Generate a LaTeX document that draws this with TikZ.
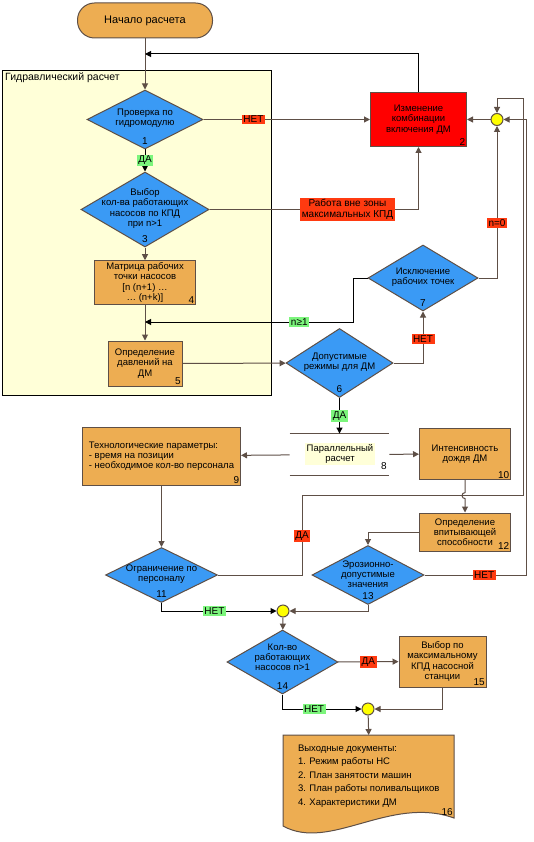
\documentclass[tikz,border=0pt]{standalone}
\usepackage{fontspec}
\setmainfont{Liberation Sans}
\usetikzlibrary{arrows.meta,positioning,shapes.geometric,calc}
\definecolor{boxfill}{HTML}{EDAD52}
\definecolor{decfill}{HTML}{3A9AF5}
\definecolor{alarm}{HTML}{FF0000}
\definecolor{tagred}{HTML}{FF3A10}
\definecolor{taggreen}{HTML}{7CF57C}
\definecolor{knotfill}{HTML}{FFFF00}
\definecolor{zonefill}{HTML}{FFFFD8}
\definecolor{wire}{HTML}{5E4F46}
\newcommand{\fs}{\fontsize{9.5}{10.2}\selectfont}

\begin{document}
\begin{tikzpicture}[x=1pt,y=-1pt,
  link/.style={draw=wire,line width=1pt,-{Triangle[length=6pt,width=6pt]}},
  blink/.style={draw=black,line width=1pt,-{Triangle[length=6pt,width=6pt]}},
  box/.style={draw=wire,fill=boxfill,line width=1pt,align=center,font=\fs,inner sep=2pt},
  dec/.style={diamond,draw=wire,fill=decfill,line width=1pt,inner sep=0pt},
  dtext/.style={align=center,font=\fs,inner sep=0pt},
  num/.style={font=\fontsize{10}{12}\selectfont,inner sep=1.5pt},
  tagr/.style={fill=tagred,font=\fontsize{10}{10.5}\selectfont,inner sep=1.5pt,align=center},
  tagg/.style={fill=taggreen,font=\fontsize{10}{10.5}\selectfont,inner sep=1.5pt},
  knot/.style={circle,draw=wire,fill=knotfill,line width=1pt,minimum size=12pt,inner sep=0pt}]
\useasboundingbox (0,0) rectangle (534,842);
% hydraulic block and document outline
\draw[fill=zonefill,line width=0.8pt] (2,70) rectangle (271.5,395.6);
\node[anchor=west,font=\fontsize{10.5}{12}\selectfont,inner sep=0pt] (zonet) at (5,78) {Гидравлический расчет};
\draw[fill=boxfill,draw=wire,line width=1pt] (283,735) -- (454,735) -- (454,818) .. controls (390,795) and (330,852) .. (283,826) -- cycle;

\node[box,rounded corners=17pt,minimum width=135,minimum height=35,font=\fontsize{11}{13}\selectfont] (start) at (145,20.5) {Начало расчета};
\coordinate (top) at (145,54);
\coordinate (midjoin) at (145,322);

\node[dec,minimum width=116,minimum height=59,label={[num,anchor=south,yshift=3.5pt]south:1}] (d1) at (145,119.5) {};
\node[dtext] (d1t) at (145,118) {Проверка по\\гидромодулю};
\node[box,fill=alarm,minimum width=96,minimum height=54,label={[num,anchor=south east]south east:2}] (n2) at (418.5,119.5) {Изменение\\комбинации\\включения ДМ};
\node[knot] (c1) at (497,119.5) {};
\node[dec,minimum width=128,minimum height=75,label={[num,anchor=south,yshift=3.5pt]south:3}] (d3) at (145,209.5) {};
\node[dtext] (d3t) at (145,208.5) {Выбор\\кол-ва работающих\\насосов по КПД\\при n>1};
\node[box,minimum width=101,minimum height=43,label={[num,anchor=south east]south east:4}] (n4) at (145,282.5) {Матрица рабочих\\точки насосов\\{[}n (n+1) …\\… (n+k)]};
\node[box,minimum width=74,minimum height=45,label={[num,anchor=south east]south east:5}] (n5) at (145,363.5) {Определение\\давлений на\\ДМ};
\node[dec,minimum width=110,minimum height=66,label={[num,anchor=south,yshift=3.5pt]south:7}] (d7) at (423,278) {};
\node[dtext] (d7t) at (423,277) {Исключение\\рабочих точек};
\node[dec,minimum width=107,minimum height=69,label={[num,anchor=south,yshift=3.5pt]south:6}] (d6) at (339.5,363) {};
\node[dtext] (d6t) at (339.5,362) {Допустимые\\режимы для ДМ};

\node[minimum width=99.5,minimum height=41.5,inner sep=0pt] (par) at (339.5,454.5) {};
\draw[draw=wire,line width=1pt] (par.north west) -- (par.north east) (par.south west) -- (par.south east);
\node[dtext,fill=zonefill,inner sep=1.5pt] (part) at (340,454) {Параллельный\\расчет};
\node[num] (parn) at (384,466) {8};

\node[box,align=left,minimum width=158,minimum height=58,label={[num,anchor=south east]south east:9}] (n9) at (161.5,456) {Технологические параметры:\\- время на позиции\\- необходимое кол-во персонала};
\node[box,minimum width=91,minimum height=51,label={[num,anchor=south east]south east:10}] (n10) at (465,454) {Интенсивность\\дождя ДМ};
\node[box,minimum width=91,minimum height=38,label={[num,anchor=south east]south east:12}] (n12) at (465,532) {Определение\\впитывающей\\способности};
\node[dec,minimum width=112,minimum height=55,label={[num,anchor=south,yshift=3.5pt]south:11}] (d11) at (161.5,575) {};
\node[dtext] (d11t) at (161.5,574.5) {Ограничение по\\персоналу};
\node[dec,minimum width=112,minimum height=59,label={[num,anchor=south,yshift=3.5pt]south:13}] (d13) at (368,575) {};
\node[dtext] (d13t) at (368,574) {Эрозионно-\\допустимые\\значения};
\node[knot] (c2) at (283,611) {};
\node[dec,minimum width=111,minimum height=64,label={[num,anchor=south,yshift=3.5pt]south:14}] (d14) at (282.5,662) {};
\node[dtext] (d14t) at (282.5,657) {Кол-во\\работающих\\насосов n>1};
\node[box,minimum width=87,minimum height=51,label={[num,anchor=south east]south east:15}] (n15) at (442.5,661.5) {Выбор по\\максимальному\\КПД насосной\\станции};
\node[knot] (c3) at (368,709) {};
\node[minimum width=171,minimum height=82,anchor=north west,align=left,inner sep=0pt,font=\fontsize{9.5}{13.5}\selectfont,label={[num,anchor=south east]south east:16}] (n16) at (283,735) {Выходные документы:\\1. Режим работы НС\\2. План занятости машин\\3. План работы поливальщиков\\4. Характеристики ДМ};

\draw[link] (start) -- (d1);
\draw[blink] (n2.north) |- (top);
\draw[link] (d1) -- node[tagr,pos=0.3]{НЕТ} (n2);
\draw[blink] (d1) -- node[tagg]{ДА} (d3);
\draw[link] (d3.east) -| node[tagr,pos=0.33]{Работа вне зоны\\максимальных КПД} (n2.south);
\draw[link] (d3) -- (n4);
\draw[link] (n4) -- (n5);
\draw[blink] (d7.west) -- ++(-14,0) |- node[tagg,pos=0.63]{n≥1} (midjoin);
\draw[link] (d7.east) -| node[tagr,pos=0.68]{n=0} (c1.south);
\draw[link] (c1) -- (n2);
\draw[link] (n5) -- (d6);
\draw[link] (d6.east) -| node[tagr,pos=0.73]{НЕТ} (d7.south);
\draw[blink] (d6) -- node[tagg]{ДА} (par);
\draw[link] (par) -- (n9);
\draw[link] (par) -- (n10);
\draw[link] (n9) -- (d11);
\draw[link] (n10.south) -- (465,492.6) arc[start angle=270,end angle=90,radius=3] -- (n12.north);
\draw[link] (n12.west) -| (d13.north);
\draw[link] (d11.east) -| node[tagr,pos=0.745]{ДА} (302,495.6) -- (523.5,495.6) -- (523.5,99) -| (c1.north);
\draw[link] (d13.east) -- node[tagr,pos=0.585]{НЕТ} (526.5,575) |- (c1.east);
\draw[blink] (d11.south) |- node[tagg,pos=0.73]{НЕТ} (c2.west);
\draw[link] (d13.south) |- (c2.east);
\draw[link] (c2) -- (d14);
\draw[link] (d14) -- node[tagr]{ДА} (n15);
\draw[blink] (d14.south) |- node[tagg,pos=0.7]{НЕТ} (c3.west);
\draw[link] (n15.south) |- (c3.east);
\draw[link] (c3) -- (n16.north);
\end{tikzpicture}
\end{document}
